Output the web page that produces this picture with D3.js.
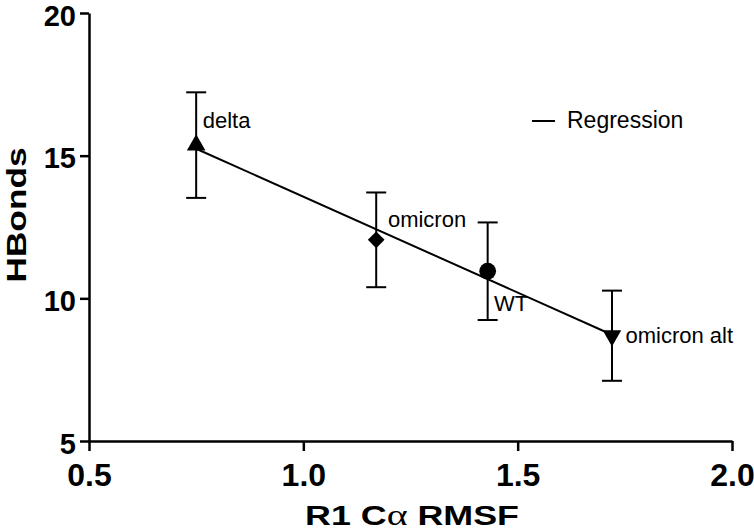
<!DOCTYPE html>
<html>
<head>
<meta charset="utf-8">
<script src="https://cdn.jsdelivr.net/npm/d3@7"></script>
<style>
  html, body { margin: 0; padding: 0; background: #fff; }
  svg { display: block; }
  text { font-family: "Liberation Sans", Arial, sans-serif; fill: #000; }
</style>
</head>
<body>
<svg id="chart" width="754" height="532"></svg>
<script>
// ---- data ----
const variants = ["delta", "omicron", "WT", "omicron alt"];
const rmsf     = [0.75, 1.17, 1.43, 1.72];
const hbonds   = [15.37, 12.05, 10.95, 8.69];
const hbondsSD = [1.85, 1.66, 1.71, 1.58];
const xTicks = [0.5, 1.0, 1.5, 2.0];
const yTicks = [5, 10, 15, 20];
const xTitle = "R1 C";
const xTitleGreek = "α";
const xTitleTail = " RMSF";
const yTitle = "HBonds";
const legendLabel = "Regression";

// ---- layout / style (not data) ----
// marker: [symbol, size, rotation]
const markerStyles = [
  [d3.symbolTriangle, 150, 0],
  [d3.symbolSquare, 140, 45],
  [d3.symbolCircle, 220, 0],
  [d3.symbolTriangle, 150, 180]
];
const labelOffsets = [[6.5, -17], [11.7, -13], [6.4, 40], [13.5, 7]];

const svg = d3.select("#chart");
const x = d3.scaleLinear().domain([0.5, 2.0]).range([89, 732]);
const y = d3.scaleLinear().domain([5, 20]).range([441, 13]);

// x axis
const xAxis = svg.append("g")
  .attr("transform", `translate(0,${y(5)})`)
  .call(d3.axisBottom(x).tickValues(xTicks).tickFormat(d3.format(".1f"))
        .tickSize(10).tickSizeOuter(0).tickPadding(12));
xAxis.select(".domain").attr("stroke", "#000").attr("stroke-width", 2.5);
xAxis.selectAll(".tick line").attr("stroke", "#000").attr("stroke-width", 2.5);
xAxis.selectAll(".tick text").attr("font-size", 32).attr("font-weight", "bold")
  .attr("font-family", "Liberation Sans, Arial, sans-serif").attr("fill", "#000");

// y axis
const yAxis = svg.append("g")
  .attr("transform", `translate(${x(0.5)},0)`)
  .call(d3.axisLeft(y).tickValues(yTicks).tickFormat(d3.format("d"))
        .tickSize(9).tickSizeOuter(0).tickPadding(4));
yAxis.select(".domain").attr("stroke", "#000").attr("stroke-width", 2.5);
yAxis.selectAll(".tick line").attr("stroke", "#000").attr("stroke-width", 2.5);
yAxis.selectAll(".tick text").attr("font-size", 29).attr("font-weight", "bold")
  .attr("font-family", "Liberation Sans, Arial, sans-serif").attr("fill", "#000")
  .attr("dy", "0.42em");

// regression (least squares from the data)
const mx = d3.mean(rmsf), my = d3.mean(hbonds);
let sxy = 0, sxx = 0;
rmsf.forEach((v, i) => { sxy += (v - mx) * (hbonds[i] - my); sxx += (v - mx) * (v - mx); });
const slope = sxy / sxx, intercept = my - slope * mx;
const xr = d3.extent(rmsf);
svg.append("line")
  .attr("x1", x(xr[0])).attr("y1", y(intercept + slope * xr[0]))
  .attr("x2", x(xr[1])).attr("y2", y(intercept + slope * xr[1]))
  .attr("stroke", "#000").attr("stroke-width", 2);

// error bars
const pts = variants.map((v, i) => ({ name: v, x: rmsf[i], y: hbonds[i], sd: hbondsSD[i], i }));
const eb = svg.append("g").attr("stroke", "#000").attr("stroke-width", 2);
pts.forEach(p => {
  const cx = x(p.x);
  eb.append("line").attr("x1", cx).attr("x2", cx).attr("y1", y(p.y - p.sd)).attr("y2", y(p.y + p.sd));
  [p.y - p.sd, p.y + p.sd].forEach(v => {
    eb.append("line").attr("x1", cx - 10).attr("x2", cx + 10).attr("y1", y(v)).attr("y2", y(v));
  });
});

// markers
pts.forEach(p => {
  const [sym, size, rot] = markerStyles[p.i];
  svg.append("path")
    .attr("d", d3.symbol().type(sym).size(size)())
    .attr("transform", `translate(${x(p.x)},${y(p.y)}) rotate(${rot})`)
    .attr("fill", "#000");
});

// point labels
pts.forEach(p => {
  svg.append("text")
    .attr("x", x(p.x) + labelOffsets[p.i][0])
    .attr("y", y(p.y) + labelOffsets[p.i][1])
    .attr("font-size", 22)
    .text(p.name);
});

// legend
svg.append("line").attr("x1", 532).attr("x2", 555).attr("y1", 121).attr("y2", 121)
  .attr("stroke", "#000").attr("stroke-width", 2);
svg.append("text").attr("x", 567).attr("y", 127.5).attr("font-size", 23).text(legendLabel);

// axis titles
const xt = svg.append("text")
  .attr("x", 412).attr("y", 525)
  .attr("text-anchor", "middle")
  .attr("font-size", 27).attr("font-weight", "bold")
  .attr("textLength", 214).attr("lengthAdjust", "spacingAndGlyphs");
xt.append("tspan").text(xTitle);
xt.append("tspan").attr("font-family", "Liberation Serif, DejaVu Serif, serif")
  .attr("font-weight", "normal").attr("font-size", 30).text(xTitleGreek);
xt.append("tspan").text(xTitleTail);

svg.append("text")
  .attr("transform", "translate(26,215) rotate(-90)")
  .attr("text-anchor", "middle")
  .attr("font-size", 28).attr("font-weight", "bold")
  .attr("textLength", 135).attr("lengthAdjust", "spacingAndGlyphs")
  .text(yTitle);
</script>
</body>
</html>
